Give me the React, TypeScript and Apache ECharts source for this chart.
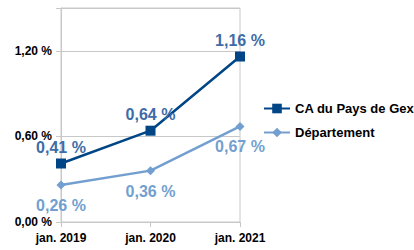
import React, { useEffect, useRef } from "react";
import * as echarts from "echarts";

const categories = ["jan. 2019", "jan. 2020", "jan. 2021"];
const gexValues = [0.41, 0.64, 1.16];
const deptValues = [0.26, 0.36, 0.67];
const seriesNames = ["CA du Pays de Gex", "Département"];

const fmt = (v: number) => v.toFixed(2).replace(".", ",") + " %";

export default function App() {
  const ref = useRef<HTMLDivElement>(null);
  useEffect(() => {
    const chart = echarts.init(ref.current!, undefined, { renderer: "svg" });
    chart.setOption({
      animation: false,
      textStyle: { fontFamily: "Liberation Sans" },
      grid: {
        left: 61,
        right: 174,
        top: 8,
        bottom: 28,
        show: true,
        borderColor: "#c8c8c8",
        borderWidth: 1,
      },
      legend: {
        orient: "vertical",
        left: 258,
        top: 97,
        itemWidth: 26,
        itemHeight: 12,
        itemGap: 11,
        textStyle: { fontSize: 13, fontWeight: "bold", color: "#000", fontFamily: "Liberation Sans" },
        data: seriesNames,
      },
      xAxis: {
        type: "category",
        data: categories,
        boundaryGap: false,
        axisLine: { lineStyle: { color: "#c8c8c8" } },
        axisTick: { show: true, length: 5, alignWithLabel: true, lineStyle: { color: "#c8c8c8" } },
        axisLabel: { fontSize: 12, fontWeight: "bold", color: "#000", margin: 10, fontFamily: "Liberation Sans" },
        splitLine: { show: false },
      },
      yAxis: {
        type: "value",
        min: 0,
        max: 1.5,
        interval: 0.6,
        axisLine: { show: true, lineStyle: { color: "#c8c8c8" } },
        axisTick: { show: true, length: 5, lineStyle: { color: "#c8c8c8" } },
        axisLabel: {
          fontSize: 12,
          fontWeight: "bold",
          color: "#000",
          margin: 9,
          fontFamily: "Liberation Sans",
          formatter: (v: number) => (Math.abs(v - 1.5) < 1e-6 ? "" : fmt(v)),
        },
        splitLine: { show: true, lineStyle: { color: "#c8c8c8" } },
      },
      series: [
        {
          name: seriesNames[0],
          type: "line",
          data: gexValues,
          symbol: "rect",
          symbolSize: 10,
          itemStyle: { color: "#004586" },
          lineStyle: { color: "#004586", width: 2.5 },
          label: {
            show: true,
            position: "top",
            distance: 3,
            fontSize: 16,
            fontWeight: "bold",
            color: "#3d6ca8",
            fontFamily: "Liberation Sans",
            formatter: (p: any) => fmt(p.value),
          },
          z: 3,
        },
        {
          name: seriesNames[1],
          type: "line",
          data: deptValues,
          symbol: "diamond",
          symbolSize: 9,
          itemStyle: { color: "#729fcf" },
          lineStyle: { color: "#729fcf", width: 2.5 },
          label: {
            show: true,
            position: "bottom",
            distance: 8,
            fontSize: 16,
            fontWeight: "bold",
            color: "#729fcf",
            fontFamily: "Liberation Sans",
            formatter: (p: any) => fmt(p.value),
          },
          z: 2,
        },
      ],
    });
    return () => chart.dispose();
  }, []);
  return <div ref={ref} style={{ width: 414, height: 250, position: "absolute", left: 0, top: 0 }} />;
}
